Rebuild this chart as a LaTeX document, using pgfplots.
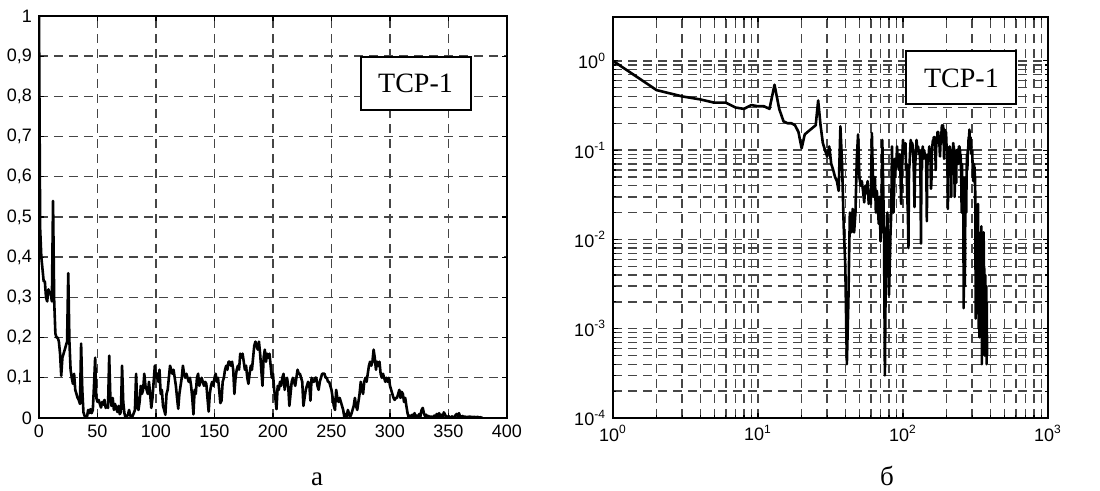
\documentclass[border=0pt]{standalone}
\usepackage{fontspec}
\setmainfont{Liberation Serif}
\newfontfamily\arial{Liberation Sans}
\usepackage{pgfplots}
\pgfplotsset{compat=1.18}
\usepackage{pgfplotstable}

\pgfplotstableread[row sep=\\]{
y\\
1.0\\0.47\\0.40\\0.37\\0.34\\0.34\\0.30\\0.29\\0.32\\0.31\\
0.31\\0.29\\0.54\\0.29\\0.21\\0.20\\0.20\\0.19\\0.16\\0.105\\
0.15\\0.16\\0.17\\0.18\\0.19\\0.36\\0.19\\0.12\\0.10\\0.085\\
0.11\\0.07\\0.06\\0.05\\0.045\\0.035\\0.185\\0.07\\0.014\\0.005\\
0.0004\\0.002\\0.02\\0.012\\0.022\\0.012\\0.02\\0.08\\0.15\\0.05\\
0.04\\0.045\\0.035\\0.026\\0.04\\0.033\\0.045\\0.025\\0.03\\0.025\\
0.155\\0.05\\0.03\\0.05\\0.02\\0.035\\0.025\\0.015\\0.03\\0.0095\\
0.015\\0.13\\0.04\\0.012\\0.0003\\0.004\\0.008\\0.02\\0.006\\0.0024\\
0.005\\0.012\\0.02\\0.11\\0.03\\0.02\\0.04\\0.08\\0.06\\0.07\\
0.11\\0.08\\0.07\\0.06\\0.09\\0.06\\0.025\\0.05\\0.09\\0.13\\
0.10\\0.11\\0.09\\0.12\\0.06\\0.07\\0.03\\0.02\\0.008\\0.06\\
0.07\\0.10\\0.13\\0.12\\0.11\\0.12\\0.10\\0.08\\0.05\\0.023\\
0.06\\0.08\\0.10\\0.13\\0.11\\0.10\\0.11\\0.10\\0.09\\0.10\\
0.08\\0.05\\0.009\\0.07\\0.06\\0.10\\0.11\\0.08\\0.09\\0.10\\
0.09\\0.08\\0.09\\0.085\\0.05\\0.016\\0.06\\0.08\\0.09\\0.08\\
0.10\\0.11\\0.09\\0.10\\0.07\\0.037\\0.043\\0.09\\0.10\\0.12\\
0.13\\0.12\\0.14\\0.14\\0.13\\0.14\\0.12\\0.06\\0.10\\0.12\\
0.13\\0.12\\0.16\\0.15\\0.16\\0.14\\0.12\\0.13\\0.10\\0.085\\
0.11\\0.13\\0.12\\0.15\\0.18\\0.19\\0.18\\0.17\\0.19\\0.16\\
0.12\\0.08\\0.15\\0.17\\0.14\\0.16\\0.15\\0.16\\0.13\\0.10\\
0.11\\0.07\\0.05\\0.022\\0.08\\0.07\\0.09\\0.08\\0.10\\0.11\\
0.07\\0.09\\0.10\\0.08\\0.03\\0.06\\0.09\\0.10\\0.09\\0.08\\
0.10\\0.12\\0.11\\0.11\\0.10\\0.09\\0.03\\0.05\\0.07\\0.08\\
0.09\\0.085\\0.043\\0.10\\0.09\\0.09\\0.10\\0.10\\0.08\\0.07\\
0.09\\0.10\\0.11\\0.11\\0.11\\0.10\\0.10\\0.09\\0.09\\0.08\\
0.07\\0.05\\0.03\\0.02\\0.07\\0.05\\0.04\\0.05\\0.04\\0.03\\
0.02\\0.0017\\0.01\\0.004\\0.02\\0.01\\0.003\\0.01\\0.02\\0.03\\
0.05\\0.03\\0.02\\0.04\\0.06\\0.09\\0.07\\0.06\\0.09\\0.10\\
0.09\\0.11\\0.13\\0.14\\0.13\\0.14\\0.17\\0.15\\0.12\\0.14\\
0.13\\0.14\\0.11\\0.10\\0.11\\0.10\\0.09\\0.10\\0.09\\0.10\\
0.08\\0.07\\0.06\\0.05\\0.045\\0.05\\0.05\\0.06\\0.07\\0.05\\
0.065\\0.06\\0.04\\0.05\\0.03\\0.012\\0.0013\\0.006\\0.002\\0.008\\
0.004\\0.012\\0.003\\0.006\\0.0015\\0.01\\0.004\\0.02\\0.025\\0.012\\
0.004\\0.008\\0.001\\0.005\\0.002\\0.004\\0.0008\\0.003\\0.006\\0.002\\
0.01\\0.005\\0.012\\0.004\\0.008\\0.002\\0.014\\0.009\\0.003\\0.0004\\
0.005\\0.002\\0.001\\0.004\\0.0006\\0.002\\0.007\\0.01\\0.004\\0.012\\
0.003\\0.001\\0.005\\0.002\\0.004\\0.0005\\0.003\\0.002\\0.004\\0.001\\
0.003\\0.0008\\0.003\\0.002\\0.0015\\0.003\\0.0004\\0.002\\0.001\\0.0005\\
}\tcpdata

\pgfplotsset{
  mybox/.style={
    scale only axis,
    anchor=south west,
    axis line style={line width=1.1pt},
    tick align=inside,
    xtick pos=both, ytick pos=both,
    major tick length=2.5pt, minor tick length=1.5pt,
    tick style={black, line width=0.6pt},
    grid style={dash pattern=on 4.5pt off 3pt, line width=0.7pt, gray!55!black},
    major grid style={dash pattern=on 4.5pt off 3pt, line width=0.7pt, gray!55!black},
    minor grid style={dash pattern=on 4.5pt off 3pt, line width=0.7pt, gray!55!black},
  },
}
\tikzset{
  tcpline/.style={black, line width=1.3pt, line join=round},
  legbox/.style={draw, line width=1pt, fill=white, minimum width=55pt,
    minimum height=26.5pt, inner sep=0pt, font=\fontsize{14}{15}\selectfont},
}

\begin{document}
\begin{tikzpicture}
\useasboundingbox (0,0) rectangle (550pt,245.5pt);

\begin{axis}[mybox,
  at={(19.5pt,36.5pt)}, width=234pt, height=201pt,
  xmin=0, xmax=400, ymin=0, ymax=1,
  xtick={0,50,...,400},
  ytick={0,0.1,0.2,0.3,0.4,0.5,0.6,0.7,0.8,0.9,1},
  yticklabels={0,{0,1},{0,2},{0,3},{0,4},{0,5},{0,6},{0,7},{0,8},{0,9},1},
  xticklabels={0,50,100,150,200,250,300,350,400},
  ticklabel style={font=\arial\fontsize{9}{10}\selectfont},
  grid=major,
]
\addplot[tcpline] table[x expr=\coordindex, y=y] {\tcpdata};
\node[legbox] at (rel axis cs:0.8045,0.832) {TCP-1};
\end{axis}

\begin{axis}[mybox,
  xmode=log, ymode=log,
  at={(306.5pt,36.5pt)}, width=217.5pt, height=200.5pt,
  xmin=1, xmax=1000, ymin=1e-4, ymax=3.1,
  xtick={1,10,100,1000},
  xticklabels={10\textsuperscript{0},10\textsuperscript{1},10\textsuperscript{2},10\textsuperscript{3}},
  ytick={1e-4,1e-3,1e-2,1e-1,1},
  yticklabels={10\textsuperscript{-4},10\textsuperscript{-3},10\textsuperscript{-2},10\textsuperscript{-1},10\textsuperscript{0}},
  ticklabel style={font=\arial\fontsize{9}{10}\selectfont},
  grid=both,
]
\addplot[tcpline] table[x expr=\coordindex+1, y=y] {\tcpdata};
\node[legbox] at (rel axis cs:0.801,0.848) {TCP-1};
\end{axis}

\node[anchor=base, font=\fontsize{13.5}{14}\selectfont] at (158.5pt,2.5pt) {а};
\node[anchor=base, font=\fontsize{13.5}{14}\selectfont] at (443.5pt,2.5pt) {б};
\end{tikzpicture}
\end{document}
